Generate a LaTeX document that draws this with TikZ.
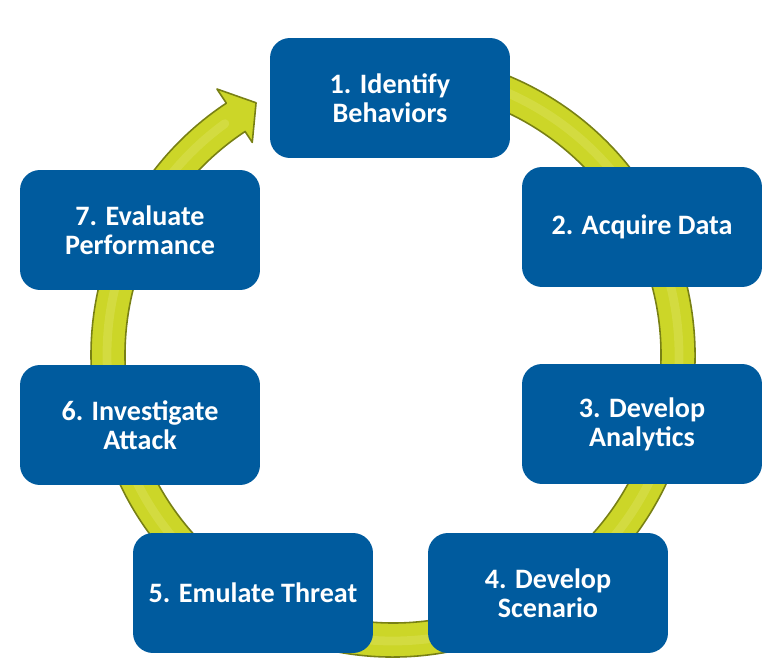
\documentclass[tikz,border=0pt]{standalone}
\usepackage{fontspec}
\setmainfont{Carlito}
\usepackage{xcolor}
\usepackage{tikz}
\usetikzlibrary{positioning, calc}
\definecolor{stageblue}{RGB}{0, 91, 158}
\definecolor{ringyellow}{RGB}{204, 214, 40}
\definecolor{ringdark}{RGB}{120, 128, 20}
\definecolor{ringlight}{RGB}{222, 228, 100}

\begin{document}
\begin{tikzpicture}[x=0.02cm, y=0.02cm,
    stage/.style={rectangle, rounded corners=0.4cm, fill=stageblue, text=white,
        minimum width=4.8cm, minimum height=2.4cm, align=center,
        font=\bfseries\fontsize{16}{16.5}\selectfont},
    ring/.style={fill=ringyellow, draw=ringdark, line width=0.9pt, line join=round}]
    \useasboundingbox (0,0) rectangle (778,669);

    % Ring with arrow head
    \begin{scope}[shift={(393,314)}]
        \filldraw[ring] (100:302) arc[start angle=100, end angle=-236.5, radius=302]
            -- (-236.5:319) -- (-241.5:287) -- (-236.5:255) -- (-236.5:268)
            arc[start angle=-236.5, end angle=100, radius=268] -- cycle;
        % highlight
        \draw[ringlight, line width=5pt, opacity=0.4, line cap=round]
            (95:286) arc[start angle=95, end angle=-234, radius=286];
    \end{scope}

    % Stages
    \node[stage] (identify) at (390,571) {1. Identify\\Behaviors};
    \node[stage] (acquire) at (642,442) {2. Acquire Data};
    \node[stage] (analytics) at (642,245) {3. Develop\\Analytics};
    \node[stage] (scenario) at (548,76) {4. Develop\\Scenario};
    \node[stage] (emulate) at (253,76) {5. Emulate Threat};
    \node[stage] (investigate) at (140,244) {6. Investigate\\Attack};
    \node[stage] (evaluate) at (140,439) {7. Evaluate\\Performance};
\end{tikzpicture}
\end{document}
